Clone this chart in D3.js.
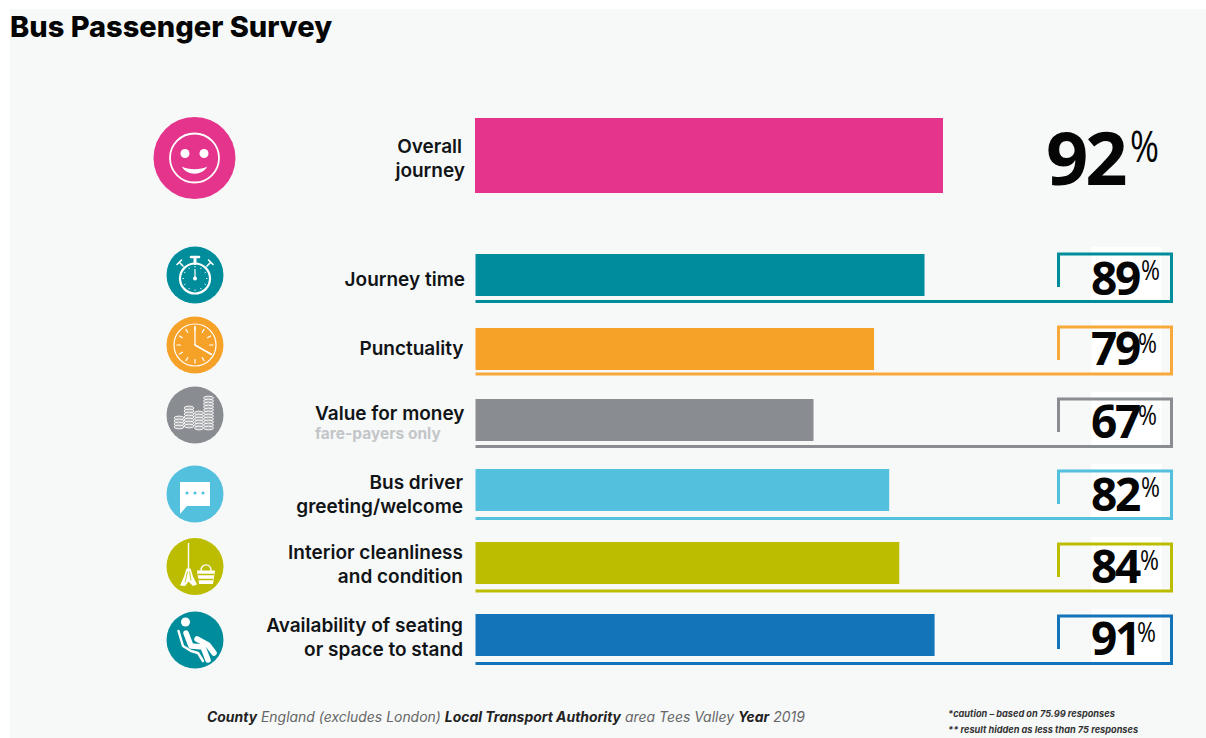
<!DOCTYPE html>
<html><head><meta charset="utf-8">
<script src="https://cdn.jsdelivr.net/npm/d3@7/dist/d3.min.js"></script>
<style>
html,body{margin:0;padding:0;background:#fff}
svg{display:block}
text{font-family:Inter,"Open Sans",sans-serif}
text.num{font-family:"Open Sans",sans-serif}
</style></head><body><svg id="chart" width="1206" height="738"></svg>
<script>
// Survey results
const title = "Bus Passenger Survey";
const headlineLabel = ["Overall", "journey"];
const headlineValue = 92;
const headlineColor = "#e4348c";
const measures = ["Journey time", "Punctuality", "Value for money", "Bus driver greeting/welcome", "Interior cleanliness and condition", "Availability of seating or space to stand"];
const measureLines = [["Journey time"], ["Punctuality"], ["Value for money"], ["Bus driver", "greeting/welcome"], ["Interior cleanliness", "and condition"], ["Availability of seating", "or space to stand"]];
const scores = [89, 79, 67, 82, 84, 91];
const colors = ["#008d9b", "#f6a229", "#898c90", "#53c0de", "#bcbd00", "#1474ba"];
const frameColors = ["#008d9b", "#f8a93a", "#898c90", "#53c0de", "#bcbd00", "#1474ba"];
const iconKinds = ["stopwatch", "clock", "coins", "speech", "mop", "seat"];
const iconColors = ["#008d9b", "#f6a229", "#898c90", "#53c0de", "#bcbd00", "#008d9b"];

const svg = d3.select("#chart");
const ink = "#111416";
const paper = "#f7f9f9";

svg.append("rect").attr("x", 10).attr("y", 9).attr("width", 1196).attr("height", 729).attr("fill", paper);
svg.append("text").attr("x", 10).attr("y", 36.5).attr("font-size", 29).attr("font-weight", 800).attr("fill", "#050505").text(title);

// The headline bar is drawn a little larger than the measure bars
const xHero = d3.scaleLinear().domain([0, 100]).range([475, 983.7]);
const x = d3.scaleLinear().domain([0, 100]).range([475.5, 980]);

const rowTops = [254, 328, 399, 469, 542, 614];
const frameTop = [254, 327, 399, 471, 544, 616];
const frameBottom = [301.5, 374, 446.5, 518.5, 591, 663.5];
const iconY = [275, 345, 415, 494, 566.5, 640];
const labelY = [286, 355, 420, 489, 559, 632];
const labelX = [465, 463.5, 464.5, 463, 463, 463];
const valueY = [295, 365, 438, 510.5, 583, 655];
const percentX = [1141, 1138, 1138, 1141, 1140, 1137];

// Headline row
svg.append("rect").attr("x", xHero(0)).attr("y", 118).attr("width", xHero(headlineValue) - xHero(0)).attr("height", 75).attr("fill", headlineColor);
svg.append("text").attr("class", "num").attr("x", 1046).attr("y", 185).attr("font-size", 74).attr("letter-spacing", -3).attr("font-weight", 700).attr("fill", "#050505").text(headlineValue);
svg.append("text").attr("class", "num").attr("x", 1130).attr("y", 162).attr("font-size", 44).attr("textLength", 29).attr("lengthAdjust", "spacingAndGlyphs").attr("font-weight", 400).attr("fill", "#050505").text("%");
svg.append("g").attr("text-anchor", "end").attr("font-size", 19).attr("font-weight", 600).attr("fill", ink)
  .selectAll("text").data(headlineLabel).join("text")
  .attr("x", (d, i) => i ? 465 : 462).attr("y", (d, i) => 152.5 + i * 24).text(d => d);

// Measure rows
const rows = svg.append("g").selectAll("g").data(measures).join("g");
rows.append("rect").attr("x", 1091.5).attr("y", (d, i) => frameTop[i] - 7).attr("width", 70).attr("height", (d, i) => frameBottom[i] - frameTop[i] + 6).attr("fill", "#fff");
rows.append("rect").attr("x", x(0)).attr("y", (d, i) => rowTops[i]).attr("width", (d, i) => x(scores[i]) - x(0)).attr("height", 42).attr("fill", (d, i) => colors[i]);
rows.append("path").attr("fill", "none").attr("stroke-width", 3).attr("stroke", (d, i) => frameColors[i])
  .attr("d", (d, i) => `M1058.5,${frameTop[i] + 33}V${frameTop[i]}H1171.5V${frameBottom[i]}H${x(0)}`);
rows.append("text").attr("class", "num").attr("x", 1091).attr("y", (d, i) => valueY[i]).attr("font-size", 46).attr("letter-spacing", -2.4).attr("font-weight", 700).attr("fill", "#050505").text((d, i) => scores[i]);
rows.append("text").attr("class", "num").attr("x", (d, i) => percentX[i]).attr("y", (d, i) => frameTop[i] + 26).attr("font-size", 27).attr("textLength", 19).attr("lengthAdjust", "spacingAndGlyphs").attr("font-weight", 400).attr("fill", "#050505").text("%");
rows.each(function (d, i) {
  d3.select(this).append("g").attr("text-anchor", "end").attr("font-size", 19).attr("font-weight", 600).attr("fill", ink)
    .selectAll("text").data(measureLines[i]).join("text")
    .attr("x", labelX[i]).attr("y", (t, j) => labelY[i] + j * 24).text(t => t);
});
svg.append("text").attr("x", 315).attr("y", 439).attr("font-size", 15.5).attr("font-weight", 700).attr("fill", "#c3c6c8").text("fare-payers only");

// Icons: a filled disc with a white pictogram on top
const white = "#fff";
function line(g, d, w) { return g.append("path").attr("d", d).attr("fill", "none").attr("stroke", white).attr("stroke-width", w).attr("stroke-linecap", "round").attr("stroke-linejoin", "round"); }
function fill(g, d) { return g.append("path").attr("d", d).attr("fill", white); }
function polar(r, a) { return [r * Math.sin(a), -r * Math.cos(a)]; }
function ticks(g, n, r0, r1, w) {
  d3.range(n).forEach(k => {
    const a = k / n * 2 * Math.PI, p = polar(r0, a), q = polar(r1, a);
    line(g, `M${p}L${q}`, w);
  });
}
const draw = {
  stopwatch(g) {
    g.append("circle").attr("cy", 3.5).attr("r", 15).attr("fill", "none").attr("stroke", white).attr("stroke-width", 2.2);
    line(g, "M0,-11.5V-16", 3); line(g, "M-4,-18H4", 2.6);
    line(g, "M-12,-9L-15.5,-12.5M-18,-10.5L-13.5,-15", 1.6);
    line(g, "M12,-9L15.5,-12.5M18,-10.5L13.5,-15", 1.6);
    const t = g.append("g").attr("transform", "translate(0,3.5)");
    ticks(t, 12, 11.5, 12, 1);
    line(t, "M0,0V-9", 1.2);
    t.append("circle").attr("r", 2).attr("fill", white);
  },
  clock(g) {
    g.append("circle").attr("r", 21).attr("fill", "none").attr("stroke", white).attr("stroke-width", 1.2);
    ticks(g, 12, 14.5, 18, 1.2);
    line(g, "M0,0V-18.5", 1.3); line(g, "M0,0L16.5,9.5", 1.5);
  },
  coins(g) {
    const stack = (cx, top, rx, n) => d3.range(n).forEach(k => {
      g.append("ellipse").attr("cx", cx).attr("cy", top + k * 3).attr("rx", rx).attr("ry", 1.9).attr("fill", "#a9abae").attr("stroke", white).attr("stroke-width", 0.9);
    });
    stack(4, -2, 4.5, 6); stack(-16, 3, 5, 4); stack(-6, -7, 5, 7); stack(13.5, -17, 5, 11);
  },
  speech(g) {
    fill(g, "M-15,-12H15V12H-8L-15,20Z");
    [-8, 0, 8].forEach(cx => g.append("circle").attr("cx", cx).attr("r", 1.5).attr("cy", -1).attr("fill", "#53c0de"));
  },
  mop(g) {
    line(g, "M-6.5,-23V2", 1.4);
    fill(g, "M-8.5,2H-4.5L-2,10L2,18L-2,19.5L-6.5,15L-10,19.5L-15,19L-11,10Z");
    g.append("path").attr("d", "M-7.5,5L-10,16M-5.5,5L-4,14").attr("stroke", "#bcbd00").attr("stroke-width", 0.8).attr("fill", "none");
    fill(g, "M2,4H20L18,17.5H4Z");
    g.append("path").attr("d", "M3,8H19M3,13H18").attr("stroke", "#bcbd00").attr("stroke-width", 1.3);
    line(g, "M6,4C6,-3.5 16,-3.5 16,4", 1.4);
  },
  seat(g) {
    g.append("circle").attr("cx", -9.5).attr("cy", -18).attr("r", 4.5).attr("fill", white);
    line(g, "M-16.5,-9L-12,6L-4,11L3,13L8,21", 2.4);
    line(g, "M-9,-7L-4,6L8,7L13,20", 5.5);
    line(g, "M2,-1L13,5L19,13", 5.5);
  }
};
const discs = svg.append("g").selectAll("g").data(iconKinds).join("g").attr("transform", (d, i) => `translate(195,${iconY[i]})`);
discs.append("circle").attr("r", 28.5).attr("fill", (d, i) => iconColors[i]);
discs.each(function (d) { draw[d](d3.select(this)); });

// Smiling face on the headline row
const hero = svg.append("g").attr("transform", "translate(194.5,158)");
hero.append("circle").attr("r", 41).attr("fill", headlineColor);
hero.append("circle").attr("r", 24.5).attr("fill", "none").attr("stroke", white).attr("stroke-width", 1.8);
hero.append("circle").attr("cx", -9.5).attr("cy", -4.5).attr("r", 4.5).attr("fill", white);
hero.append("circle").attr("cx", 9.5).attr("cy", -4.5).attr("r", 4.5).attr("fill", white);
fill(hero, "M-12.5,8.5C-7,12 7,12 12.5,8.5C9,18 -9,18 -12.5,8.5Z");

// Footer
const footerParts = [["County", true], [" England (excludes London) ", false], ["Local Transport Authority", true], [" area Tees Valley ", false], ["Year", true], [" 2019", false]];
svg.append("text").attr("x", 207).attr("y", 722).attr("font-size", 13.95).attr("font-style", "italic").attr("xml:space", "preserve")
  .selectAll("tspan").data(footerParts).join("tspan")
  .attr("font-weight", d => d[1] ? 700 : 400).attr("fill", d => d[1] ? "#222" : "#666").text(d => d[0]);
const footnotes = ["*caution – based on 75.99 responses", "** result hidden as less than 75 responses"];
svg.append("g").attr("font-size", 9.2).attr("font-style", "italic").attr("font-weight", 700).attr("fill", "#333")
  .selectAll("text").data(footnotes).join("text").attr("x", 948).attr("y", (d, i) => 717 + i * 16).text(d => d);
</script></body></html>
